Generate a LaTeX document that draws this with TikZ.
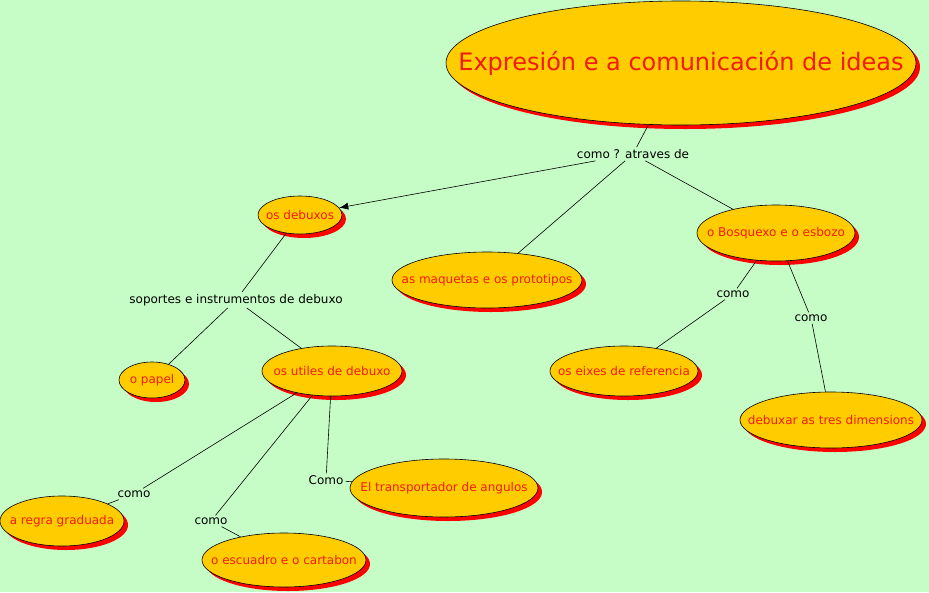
\documentclass[tikz,border=0pt]{standalone}
\usepackage{fontspec}
\setmainfont{DejaVu Sans}
\usetikzlibrary{shapes.geometric,shadows,arrows.meta}
\definecolor{bg}{HTML}{C6FDC6}
\definecolor{conc}{HTML}{FFCC00}
\definecolor{ctext}{HTML}{F21C0C}
\tikzset{
  concept/.style={ellipse, draw=black, line width=0.6pt, fill=conc, text=ctext, inner sep=0pt,
    font=\fontsize{12}{14}\selectfont,
    drop shadow={shadow xshift=4pt, shadow yshift=-4pt, fill=red, opacity=1}},
  lbl/.style={inner sep=2pt, font=\fontsize{12}{14}\selectfont, text=black},
  conn/.style={draw=black, line width=0.6pt}
}
\newcommand{\zt}[1]{\makebox[0pt]{#1}}
\begin{document}
\begin{tikzpicture}[x=1pt,y=-1pt]
\fill[bg] (0,0) rectangle (929,592);
\useasboundingbox (0,0) rectangle (929,592);
% concepts
\node[concept, minimum width=470pt, minimum height=124pt, font=\fontsize{24}{28}\selectfont] (title) at (681,63) {\zt{Expresión e a comunicación de ideas}};
\node[concept, minimum width=84pt, minimum height=38pt] (debuxos) at (300,215) {\zt{os debuxos}};
\node[concept, minimum width=190pt, minimum height=56pt] (maquetas) at (487,280) {\zt{as maquetas e os prototipos}};
\node[concept, minimum width=158pt, minimum height=56pt] (bosquexo) at (776,233) {\zt{o Bosquexo e o esbozo}};
\node[concept, minimum width=66pt, minimum height=36pt] (papel) at (152,380) {\zt{o papel}};
\node[concept, minimum width=140pt, minimum height=50pt] (utiles) at (332,371) {\zt{os utiles de debuxo}};
\node[concept, minimum width=148pt, minimum height=50pt] (eixes) at (624,371) {\zt{os eixes de referencia}};
\node[concept, minimum width=182pt, minimum height=56pt] (tres) at (831,420) {\zt{debuxar as tres dimensions}};
\node[concept, minimum width=188pt, minimum height=58pt] (transp) at (444,488) {\zt{El transportador de angulos}};
\node[concept, minimum width=124pt, minimum height=50pt] (regra) at (62,521) {\zt{a regra graduada}};
\node[concept, minimum width=164pt, minimum height=54pt] (escuadro) at (284,560) {\zt{o escuadro e o cartabon}};
% labels
\node[lbl] (l1) at (633,154) {como ? atraves de};
\node[lbl] (l2) at (236,300) {soportes e instrumentos de debuxo};
\node[lbl] (l3) at (733,294) {como};
\node[lbl] (l4) at (811,318) {como};
\node[lbl] (l5) at (134,494) {como};
\node[lbl] (l6) at (211,521) {como};
\node[lbl] (l7) at (326,480) {Como};
% connectors
\draw[conn] (title) -- (l1);
\draw[conn, -{Latex[length=9pt,width=7pt]}] (l1) -- (debuxos);
\draw[conn] (l1) -- (maquetas);
\draw[conn] (l1) -- (bosquexo);
\draw[conn] (debuxos) -- (l2);
\draw[conn] (l2) -- (papel);
\draw[conn] (l2) -- (utiles);
\draw[conn] (utiles) -- (l5);
\draw[conn] (l5) -- (regra);
\draw[conn] (utiles) -- (l6);
\draw[conn] (l6) -- (escuadro);
\draw[conn] (utiles) -- (l7);
\draw[conn] (l7) -- (transp);
\draw[conn] (bosquexo) -- (l3);
\draw[conn] (l3) -- (eixes);
\draw[conn] (bosquexo) -- (l4);
\draw[conn] (l4) -- (tres);
\end{tikzpicture}
\end{document}
